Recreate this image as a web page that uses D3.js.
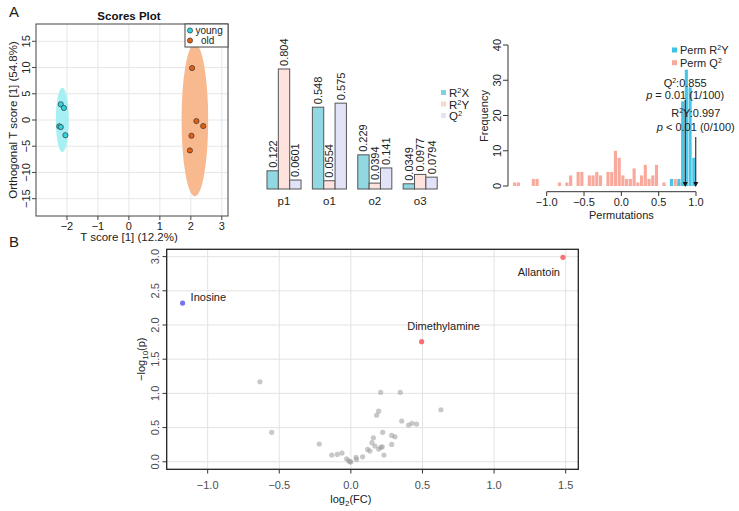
<!DOCTYPE html>
<html><head><meta charset="utf-8">
<script src="https://cdn.jsdelivr.net/npm/d3@7"></script>
<style>body{margin:0;background:#fff;} text{font-family:"Liberation Sans",Arial,sans-serif;}</style>
</head><body><svg id="c" width="739" height="511"></svg>
<script>
// ---------- Scores plot data ----------
const youngX=[-2.2,-2.1,-2.25,-2.2,-2.05];
const youngY=[3.0,2.3,-1.2,-1.35,-2.9];
const oldX=[2.04,2.18,2.4,2.02,1.97];
const oldY=[9.9,-0.2,-1.15,-3.0,-5.8];
const groups=["young","old"];
const ellCx=[-2.15,2.13], ellCy=[0,0], ellRx=[0.21,0.43], ellRy=[6.15,14.55];
const scoreXTicks=[-2,-1,0,1,2,3];
const scoreYTicks=[-15,-10,-5,0,5,10,15];
// ---------- Bar chart data ----------
const barCats=["p1","o1","o2","o3"];
const barSeries=["R²X","R²Y","Q²"];
const r2x=[0.122,0.548,0.229,0.0349];
const r2y=[0.804,0.0554,0.0394,0.0977];
const q2=[0.0601,0.575,0.141,0.0794];
// ---------- Permutation histogram data ----------
const permQ2Bins=[-1.45,-1.40,-1.20,-1.15,-0.85,-0.75,-0.70,-0.60,-0.55,-0.45,-0.40,-0.35,-0.30,-0.20,-0.15,-0.10,-0.05,0.00,0.05,0.10,0.15,0.20,0.25,0.30,0.35,0.40,0.45,0.55,0.70,0.75];
const permQ2Counts=[1,1,2,2,1,1,3,4,4,3,3,4,3,4,4,10,8,3,2,2,5,1,3,6,2,3,6,1,2,1];
const permR2YBins=[0.65,0.75,0.80,0.85,0.90,0.95];
const permR2YCounts=[2,2,24,33,28,8];
const binWidth=0.05;
const q2Obs=0.855, r2yObs=0.997;
const permXTicks=[-1.0,-0.5,0.0,0.5,1.0];
const permYTicks=[0,10,20,30,40];
// ---------- Volcano data ----------
const volFC=[-0.635,-0.553,-0.221,-0.134,-0.095,-0.062,-0.03,-0.016,-0.006,0.0,0.036,0.04,0.082,0.117,0.133,0.147,0.157,0.168,0.18,0.194,0.194,0.208,0.21,0.219,0.222,0.231,0.285,0.285,0.308,0.345,0.355,0.403,0.427,0.459,0.629];
const volP=[1.17,0.43,0.26,0.098,0.108,0.127,0.044,0.015,0.0,0.0,0.064,0.035,0.073,0.18,0.157,0.28,0.35,0.23,0.68,0.74,0.186,1.015,0.21,0.22,0.43,0.098,0.254,0.386,0.366,1.015,0.596,0.537,0.562,0.552,0.761];
const sigNames=["Allantoin","Dimethylamine","Inosine"];
const sigFC=[1.481,0.494,-1.175];
const sigP=[2.99,1.756,2.32];
const sigDir=["up","up","down"];
const volXTicks=[-1.0,-0.5,0.0,0.5,1.0,1.5];
const volYTicks=[0.0,0.5,1.0,1.5,2.0,2.5,3.0];

const svg=d3.select("#c");
svg.append("rect").attr("width",739).attr("height",511).attr("fill","#fff");
const fmt1=d3.format(".1f");

// Panel labels
svg.append("text").attr("x",9).attr("y",17).attr("font-size",15).attr("fill","#222").text("A");
svg.append("text").attr("x",9).attr("y",247).attr("font-size",15).attr("fill","#222").text("B");

// ===== Scores plot =====
{
  const x=d3.scaleLinear().domain([-3,3.2]).range([36,228]);
  const y=d3.scaleLinear().domain([-18.3,18.3]).range([216,24]);
  const g=svg.append("g");
  g.selectAll(".vg").data(scoreXTicks).join("line").attr("x1",d=>x(d)).attr("x2",d=>x(d)).attr("y1",24).attr("y2",216).attr("stroke","#e6e6e6");
  g.selectAll(".hg").data(scoreYTicks).join("line").attr("y1",d=>y(d)).attr("y2",d=>y(d)).attr("x1",36).attr("x2",228).attr("stroke","#e6e6e6");
  const ellColors=["#a6eff3","#f9b98f"];
  groups.forEach((gname,i)=>{
    g.append("ellipse").attr("cx",x(ellCx[i])).attr("cy",y(ellCy[i]))
      .attr("rx",x(ellCx[i]+ellRx[i])-x(ellCx[i])).attr("ry",y(ellCy[i])-y(ellCy[i]+ellRy[i]))
      .attr("fill",ellColors[i]);
  });
  const ptColors=["#2fd6de","#e35f14"];
  [[youngX,youngY],[oldX,oldY]].forEach(([xs,ys],i)=>{
    g.selectAll(null).data(xs).join("circle").attr("cx",d=>x(d)).attr("cy",(d,j)=>y(ys[j])).attr("r",2.6)
      .attr("fill",ptColors[i]).attr("stroke","#333").attr("stroke-width",0.7);
  });
  g.append("rect").attr("x",36).attr("y",24).attr("width",192).attr("height",192).attr("fill","none").attr("stroke","#444");
  // ticks
  g.selectAll(".xt").data(scoreXTicks).join("line").attr("x1",d=>x(d)).attr("x2",d=>x(d)).attr("y1",216).attr("y2",220).attr("stroke","#444");
  g.selectAll(".xl").data(scoreXTicks).join("text").attr("x",d=>x(d)).attr("y",230).attr("text-anchor","middle").attr("font-size",11).attr("fill","#222").text(d=>d<0?"\u2212"+Math.abs(d):d);
  g.selectAll(".yt").data(scoreYTicks).join("line").attr("y1",d=>y(d)).attr("y2",d=>y(d)).attr("x1",32).attr("x2",36).attr("stroke","#444");
  g.selectAll(".yl").data(scoreYTicks).join("text").attr("transform",d=>`translate(30,${y(d)}) rotate(-90)`).attr("text-anchor","middle").attr("font-size",11).attr("fill","#222").text(d=>d<0?"\u2212"+Math.abs(d):d);
  g.append("text").attr("x",129).attr("y",241).attr("text-anchor","middle").attr("font-size",11.5).attr("fill","#222").text("T score [1] (12.2%)");
  g.append("text").attr("transform",`translate(17,120) rotate(-90)`).attr("text-anchor","middle").attr("font-size",11.5).attr("fill","#222").text("Orthogonal T score [1] (54.8%)");
  g.append("text").attr("x",129).attr("y",20).attr("text-anchor","middle").attr("font-size",11.5).attr("font-weight","bold").attr("fill","#111").text("Scores Plot");
  // legend
  g.append("rect").attr("x",185).attr("y",24).attr("width",43).attr("height",23).attr("fill","#fff").attr("stroke","#444");
  groups.forEach((gname,i)=>{
    g.append("circle").attr("cx",190).attr("cy",30.5+i*10).attr("r",2.6).attr("fill",ptColors[i]).attr("stroke","#333").attr("stroke-width",0.7);
    g.append("text").attr("x",i===0?195.5:201).attr("y",33.5+i*10.5).attr("font-size",10).attr("fill","#222").text(gname);
  });
}

// ===== Bar chart =====
{
  const x0=d3.scaleBand().domain(barCats).range([267,437.2]).paddingInner(0.25).paddingOuter(0);
  const x1=d3.scaleBand().domain(barSeries).range([0,x0.bandwidth()]);
  const y=d3.scaleLinear().domain([0,1]).range([189,39.7]);
  const vals=[r2x,r2y,q2];
  const cols=["#92d8e2","#fde2de","#e2e2f8"];
  const legCols=["#7fd3e0","#fcd6ce","#e4e4f8"];
  const g=svg.append("g");
  barSeries.forEach((s,si)=>{
    barCats.forEach((c,ci)=>{
      const v=vals[si][ci];
      const bx=x0(c)+x1(s), bw=x1.bandwidth();
      g.append("rect").attr("x",bx).attr("y",y(v)).attr("width",bw).attr("height",y(0)-y(v))
        .attr("fill",cols[si]).attr("stroke","#555").attr("stroke-width",1);
      g.append("text").attr("transform",`translate(${bx+bw/2+4},${y(v)-3}) rotate(-90)`)
        .attr("font-size",11).attr("fill","#222").text(String(v));
    });
  });
  g.selectAll(".bl").data(barCats).join("text").attr("x",d=>x0(d)+x0.bandwidth()/2).attr("y",205).attr("text-anchor","middle").attr("font-size",11.5).attr("fill","#222").text(d=>d);
  const legY=[92.5,104,115.5];
  const legLab=[["R","X"],["R","Y"],["Q",""]];
  barSeries.forEach((s,i)=>{
    g.append("rect").attr("x",441).attr("y",legY[i]-2.5).attr("width",5).attr("height",5).attr("fill",legCols[i]);
    const t=g.append("text").attr("x",449).attr("y",legY[i]+4.5).attr("font-size",11.5).attr("fill","#222");
    t.append("tspan").text(legLab[i][0]);
    t.append("tspan").attr("dy",-4).attr("font-size",7.5).text("2");
    t.append("tspan").attr("dy",4).text(legLab[i][1]);
  });
}

// ===== Permutation histogram =====
{
  const x=d3.scaleLinear().domain([-1,1]).range([546.7,696]);
  const y=d3.scaleLinear().domain([0,40]).range([186,45]);
  const g=svg.append("g");
  g.selectAll(".q").data(permQ2Bins).join("rect").attr("x",d=>x(d)).attr("width",d=>x(d+binWidth)-x(d)-0.6)
    .attr("y",(d,i)=>y(permQ2Counts[i])).attr("height",(d,i)=>y(0)-y(permQ2Counts[i])).attr("fill","#f9a99c");
  g.selectAll(".r").data(permR2YBins).join("rect").attr("x",d=>x(d)).attr("width",d=>x(d+binWidth)-x(d)-0.6)
    .attr("y",(d,i)=>y(permR2YCounts[i])).attr("height",(d,i)=>y(0)-y(permR2YCounts[i])).attr("fill","#3ec3e6").attr("opacity",0.95);
  // arrows
  const arrows=[[q2Obs,24.4],[r2yObs,13.9]];
  arrows.forEach(([v,top])=>{
    g.append("line").attr("x1",x(v)).attr("x2",x(v)).attr("y1",y(top)).attr("y2",y(0)-3).attr("stroke","#111").attr("stroke-width",1);
    g.append("path").attr("d",`M${x(v)-2.5},${y(0)-4}L${x(v)+2.5},${y(0)-4}L${x(v)},${y(0)+1}Z`).attr("fill","#111");
  });
  // annotations
  const a1=g.append("text").attr("x",x(q2Obs)).attr("y",y(29.3)+4).attr("text-anchor","middle").attr("font-size",11).attr("fill","#222");
  a1.append("tspan").text("Q");a1.append("tspan").attr("dy",-4).attr("font-size",7).text("2");a1.append("tspan").attr("dy",4).text(":0.855");
  const a2=g.append("text").attr("x",x(q2Obs)).attr("y",y(25.8)+4).attr("text-anchor","middle").attr("font-size",11).attr("fill","#222");
  a2.append("tspan").attr("font-style","italic").text("p");a2.append("tspan").text(" = 0.01 (1/100)");
  const a3=g.append("text").attr("x",x(r2yObs)).attr("y",y(20.7)+4).attr("text-anchor","middle").attr("font-size",11).attr("fill","#222");
  a3.append("tspan").text("R");a3.append("tspan").attr("dy",-4).attr("font-size",7).text("2");a3.append("tspan").attr("dy",4).text("Y:0.997");
  const a4=g.append("text").attr("x",x(r2yObs)).attr("y",y(16.8)+4).attr("text-anchor","middle").attr("font-size",11).attr("fill","#222");
  a4.append("tspan").attr("font-style","italic").text("p");a4.append("tspan").text(" < 0.01 (0/100)");
  // axes
  g.append("line").attr("x1",508).attr("x2",508).attr("y1",y(0)).attr("y2",y(40)).attr("stroke","#333");
  g.selectAll(".yt").data(permYTicks).join("line").attr("x1",503).attr("x2",508).attr("y1",d=>y(d)).attr("y2",d=>y(d)).attr("stroke","#333");
  g.selectAll(".yl").data(permYTicks).join("text").attr("transform",d=>`translate(501,${y(d)}) rotate(-90)`).attr("text-anchor","middle").attr("font-size",11).attr("fill","#222").text(d=>d);
  g.append("text").attr("transform",`translate(488,116) rotate(-90)`).attr("text-anchor","middle").attr("font-size",11).attr("fill","#222").text("Frequency");
  g.append("line").attr("x1",x(-1)).attr("x2",x(1)).attr("y1",191.7).attr("y2",191.7).attr("stroke","#333");
  g.selectAll(".xt").data(permXTicks).join("line").attr("x1",d=>x(d)).attr("x2",d=>x(d)).attr("y1",191.7).attr("y2",196).attr("stroke","#333");
  g.selectAll(".xl").data(permXTicks).join("text").attr("x",d=>x(d)).attr("y",206).attr("text-anchor","middle").attr("font-size",11).attr("fill","#222").text(d=>(d<0?"\u2212":"")+fmt1(Math.abs(d)));
  g.append("text").attr("x",x(0)).attr("y",219).attr("text-anchor","middle").attr("font-size",11).attr("fill","#222").text("Permutations");
  // legend
  const legC=["#3ec3e6","#f9a99c"];
  [["Perm R","Y"],["Perm Q",""]].forEach((l,i)=>{
    g.append("rect").attr("x",672).attr("y",47.5+i*12.7).attr("width",5).attr("height",5).attr("fill",legC[i]);
    const t=g.append("text").attr("x",680).attr("y",54+i*12.7).attr("font-size",11).attr("fill","#222");
    t.append("tspan").text(l[0]);t.append("tspan").attr("dy",-4).attr("font-size",7).text("2");t.append("tspan").attr("dy",4).text(l[1]);
  });
}

// ===== Volcano =====
{
  const x=d3.scaleLinear().domain([-1.286,1.588]).range([166.7,578.3]);
  const y=d3.scaleLinear().domain([-0.11,3.107]).range([469.3,249.3]);
  const g=svg.append("g");
  g.selectAll(".vg").data(volXTicks).join("line").attr("x1",d=>x(d)).attr("x2",d=>x(d)).attr("y1",249.3).attr("y2",469.3).attr("stroke","#e3e3e3");
  g.selectAll(".hg").data(volYTicks).join("line").attr("y1",d=>y(d)).attr("y2",d=>y(d)).attr("x1",166.7).attr("x2",578.3).attr("stroke","#e3e3e3");
  g.selectAll(".pt").data(volFC).join("circle").attr("cx",d=>x(d)).attr("cy",(d,i)=>y(volP[i])).attr("r",2.6)
    .attr("fill","#9a9a9a").attr("fill-opacity",0.55);
  const sigCol={up:"#f8585c",down:"#5c5cf2"};
  sigNames.forEach((n,i)=>{
    g.append("circle").attr("cx",x(sigFC[i])).attr("cy",y(sigP[i])).attr("r",2.6).attr("fill",sigCol[sigDir[i]]).attr("fill-opacity",0.85);
  });
  // labels
  g.append("text").attr("x",x(sigFC[0])-3).attr("y",y(sigP[0])+19).attr("text-anchor","end").attr("font-size",11).attr("fill","#222").text(sigNames[0]);
  g.append("text").attr("x",x(sigFC[1])+22).attr("y",y(sigP[1])-12).attr("text-anchor","middle").attr("font-size",11).attr("fill","#222").text(sigNames[1]);
  g.append("text").attr("x",x(sigFC[2])+8).attr("y",y(sigP[2])-2).attr("text-anchor","start").attr("font-size",11).attr("fill","#222").text(sigNames[2]);
  g.append("rect").attr("x",166.7).attr("y",249.3).attr("width",411.6).attr("height",220).attr("fill","none").attr("stroke","#222").attr("stroke-width",1.3);
  g.selectAll(".xt").data(volXTicks).join("line").attr("x1",d=>x(d)).attr("x2",d=>x(d)).attr("y1",469.3).attr("y2",473.5).attr("stroke","#333");
  g.selectAll(".xl").data(volXTicks).join("text").attr("x",d=>x(d)).attr("y",489).attr("text-anchor","middle").attr("font-size",11).attr("fill","#4d4d4d").text(d=>(d<0?"\u2212":"")+fmt1(Math.abs(d)));
  g.selectAll(".yt").data(volYTicks).join("line").attr("x1",162.5).attr("x2",166.7).attr("y1",d=>y(d)).attr("y2",d=>y(d)).attr("stroke","#333");
  g.selectAll(".yl").data(volYTicks).join("text").attr("transform",d=>`translate(158.5,${y(d)}) rotate(-90)`).attr("text-anchor","middle").attr("font-size",11).attr("fill","#4d4d4d").text(d=>fmt1(d));
  const xt=g.append("text").attr("x",x(0)).attr("y",503).attr("text-anchor","middle").attr("font-size",11).attr("fill","#222");
  xt.append("tspan").text("log");xt.append("tspan").attr("dy",3).attr("font-size",8).text("2");xt.append("tspan").attr("dy",-3).text("(FC)");
  const yt=g.append("text").attr("transform",`translate(145,${y(1.5)}) rotate(-90)`).attr("text-anchor","middle").attr("font-size",11).attr("fill","#222");
  yt.append("tspan").text("\u2212log");yt.append("tspan").attr("dy",3).attr("font-size",8).text("10");yt.append("tspan").attr("dy",-3).text("(p)");
}
</script></body></html>
